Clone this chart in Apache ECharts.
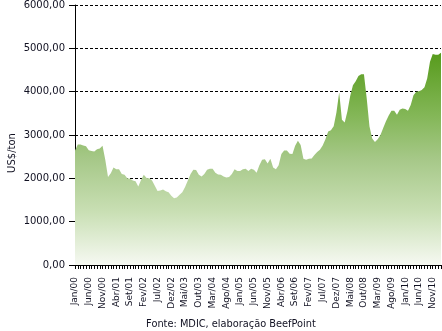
<!DOCTYPE html>
<html>
<head>
<meta charset="utf-8">
<script src="https://cdn.jsdelivr.net/npm/echarts@6/dist/echarts.min.js"></script>
<style>
  html, body { margin: 0; padding: 0; background: #fff; }
  #chart { width: 442px; height: 331px; }
</style>
</head>
<body>
<div id="chart"></div>
<script>
// meses Jan/00 .. Fev/11
const monthNames = ['Jan', 'Fev', 'Mar', 'Abr', 'Mai', 'Jun', 'Jul', 'Ago', 'Set', 'Out', 'Nov', 'Dez']
const years = ['00', '01', '02', '03', '04', '05', '06', '07', '08', '09', '10', '11']
const categories = []
years.forEach(function (y) {
  monthNames.forEach(function (m) {
    categories.push(m + '/' + y)
  })
})
categories.length = 134

// preço médio exportação, US$/ton
const prices2000_2002 = [
  2640, 2780, 2780, 2760, 2740, 2650, 2630, 2620, 2670, 2690, 2750, 2430,
  2030, 2120, 2250, 2210, 2210, 2100, 2080, 2000, 1990, 1950, 1930, 1810,
  1960, 2080, 2010, 2000, 1950, 1830, 1710, 1720, 1740, 1700, 1680, 1600
]
const prices2003_2005 = [
  1540, 1560, 1620, 1680, 1800, 1950, 2100, 2200, 2190, 2080, 2040, 2100,
  2200, 2220, 2220, 2130, 2090, 2080, 2040, 2020, 2030, 2100, 2210, 2170,
  2170, 2210, 2220, 2170, 2220, 2200, 2130, 2300, 2430, 2440, 2340, 2450
]
const prices2006_2008 = [
  2250, 2210, 2300, 2560, 2640, 2640, 2570, 2560, 2750, 2870, 2770, 2450,
  2430, 2450, 2460, 2540, 2610, 2660, 2760, 2900, 3080, 3110, 3200, 3520,
  3980, 3350, 3290, 3550, 3900, 4150, 4240, 4360, 4400, 4400, 3850, 3200
]
const prices2009_2011 = [
  2920, 2840, 2900, 3000, 3160, 3320, 3450, 3560, 3560, 3470, 3580, 3610,
  3600, 3560, 3690, 3920, 4000, 4010, 4040, 4100, 4310, 4690, 4870, 4850,
  4850, 4900
]
const prices = prices2000_2002.concat(prices2003_2005, prices2006_2008, prices2009_2011)

const yTicks = [0, 1000, 2000, 3000, 4000, 5000, 6000]

const mychart = echarts.init(document.getElementById('chart'))
const option = {
  backgroundColor: '#fff',
  animation: false,
  grid: {
    left: 75,
    right: 1,
    top: 4,
    bottom: 66
  },
  xAxis: {
    type: 'category',
    boundaryGap: false,
    data: categories,
    axisLine: { lineStyle: { color: '#000', width: 1 } },
    axisTick: { interval: 0, length: 4, lineStyle: { color: '#000' } },
    axisLabel: {
      interval: 4,
      rotate: 90,
      fontFamily: 'DejaVu Sans',
      fontSize: 9,
      color: '#111122',
      margin: 12
    },
    splitLine: { show: false }
  },
  yAxis: {
    type: 'value',
    min: yTicks[0],
    max: yTicks[yTicks.length - 1],
    interval: 1000,
    axisLine: { show: true, lineStyle: { color: '#000', width: 1 } },
    axisTick: { show: true, length: 6, lineStyle: { color: '#000' } },
    axisLabel: {
      fontFamily: 'DejaVu Sans',
      fontSize: 10,
      color: '#111122',
      margin: 10,
      formatter: function (v) {
        return v.toFixed(2).replace('.', ',')
      }
    },
    splitLine: {
      show: true,
      lineStyle: { color: '#000', type: [3, 2], width: 1 }
    }
  },
  series: [{
    name: 'US$/ton',
    type: 'line',
    data: prices,
    symbol: 'none',
    lineStyle: { width: 0, opacity: 0 },
    areaStyle: {
      opacity: 1,
      color: new echarts.graphic.LinearGradient(0, 0, 0, 1, [
        { offset: 0, color: '#579b1c' },
        { offset: 0.3, color: '#84b758' },
        { offset: 0.5, color: '#a6c888' },
        { offset: 0.75, color: '#c9dfb4' },
        { offset: 1, color: '#f6f9f2' }
      ], false)
    }
  }],
  graphic: [
    {
      type: 'text',
      x: 12,
      y: 153,
      rotation: Math.PI / 2,
      style: {
        text: 'US$/ton',
        fontFamily: 'DejaVu Sans',
        fontSize: 10,
        fill: '#111122',
        align: 'center',
        verticalAlign: 'middle'
      }
    },
    {
      type: 'text',
      x: 231,
      y: 324,
      style: {
        text: 'Fonte: MDIC, elaboração BeefPoint',
        fontFamily: 'DejaVu Sans',
        fontSize: 9.8,
        fill: '#111122',
        align: 'center',
        verticalAlign: 'middle'
      }
    }
  ]
}
mychart.setOption(option)
window.addEventListener('resize', function () {
  mychart.resize()
})
</script>
</body>
</html>
